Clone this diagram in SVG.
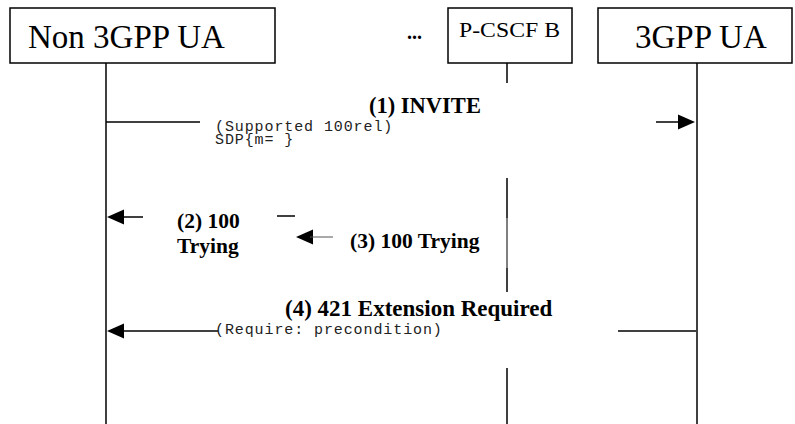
<svg xmlns="http://www.w3.org/2000/svg" width="795" height="424" viewBox="0 0 795 424">
<style>
.box{fill:#fff;stroke:#000;stroke-width:1.5}
.life{stroke:#000;stroke-width:1.5;fill:none}
.msg{stroke:#000;stroke-width:1.5;fill:none}
.head{font-family:'Liberation Serif','Times New Roman',serif;fill:#000}
.lbl{font-family:'Liberation Serif','Times New Roman',serif;font-weight:bold;fill:#000}
.mono{font-family:'Liberation Mono','Courier New',monospace;font-size:15px;letter-spacing:0.9px;fill:#222}
</style>
<defs>
<path id="ahR" d="M0,0 L-17,-7.5 L-17,7.5 Z" fill="#000"/>
<path id="ahL" d="M0,0 L17,-7.5 L17,7.5 Z" fill="#000"/>
</defs>
<rect width="795" height="424" fill="#fff"/>
<g id="node-non3gpp">
<rect class="box" x="10" y="8" width="265" height="55"/>
<text class="head" font-family="Liberation Serif, serif" x="28" y="48" font-size="33">Non 3GPP UA</text>
<line class="life" x1="106" y1="63" x2="106" y2="424"/>
</g>
<g id="node-dots">
<text class="lbl" font-family="Liberation Serif, serif" x="407" y="39" font-size="20">...</text>
</g>
<g id="node-pcscfb">
<rect class="box" x="448" y="8" width="124" height="55"/>
<text class="head" font-family="Liberation Serif, serif" x="459" y="37" font-size="22" textLength="101" lengthAdjust="spacingAndGlyphs">P-CSCF B</text>
<line class="life" x1="507" y1="63" x2="507" y2="83"/>
<line class="life" x1="507" y1="178" x2="507" y2="218"/>
<line x1="507" y1="218" x2="507" y2="268" stroke="#000" stroke-width="1"/>
<line class="life" x1="507" y1="268" x2="507" y2="292"/>
<line class="life" x1="507" y1="368" x2="507" y2="424"/>
</g>
<g id="node-3gpp">
<rect class="box" x="598" y="8" width="194" height="55"/>
<text class="head" font-family="Liberation Serif, serif" x="635" y="48" font-size="33">3GPP UA</text>
<line class="life" x1="697" y1="63" x2="697" y2="424"/>
</g>
<g id="connectors">
<g id="m1">
<line class="msg" x1="106" y1="122" x2="200" y2="122"/>
<line class="msg" x1="656" y1="122" x2="680" y2="122"/>
<use href="#ahR" x="695" y="122"/>
<text class="lbl" font-family="Liberation Serif, serif" x="369" y="113" font-size="22.5">(1) INVITE</text>
<text class="mono" font-family="Liberation Mono, monospace" x="215" y="131">(Supported 100rel)</text>
<text class="mono" font-family="Liberation Mono, monospace" x="215" y="144">SDP{m= }</text>
</g>
<g id="m2">
<use href="#ahL" x="107" y="217"/>
<line class="msg" x1="120" y1="217" x2="143" y2="217"/>
<line class="msg" x1="277" y1="216" x2="295" y2="216"/>
<text class="lbl" font-family="Liberation Serif, serif" x="177" y="228" font-size="21.5">(2) 100</text>
<text class="lbl" font-family="Liberation Serif, serif" x="177" y="253" font-size="21.5">Trying</text>
</g>
<g id="m3">
<use href="#ahL" x="296" y="237"/>
<line x1="310" y1="237" x2="333" y2="237" stroke="#555" stroke-width="1"/>
<text class="lbl" font-family="Liberation Serif, serif" x="350" y="248" font-size="21.5">(3) 100 Trying</text>
</g>
<g id="m4">
<use href="#ahL" x="107" y="331"/>
<line class="msg" x1="120" y1="331" x2="218" y2="331"/>
<line class="msg" x1="618" y1="331" x2="696" y2="331"/>
<text class="lbl" font-family="Liberation Serif, serif" x="285" y="316" font-size="23">(4) 421 Extension Required</text>
<text class="mono" font-family="Liberation Mono, monospace" x="215" y="334">(Require: precondition)</text>
</g>
</g>
</svg>
